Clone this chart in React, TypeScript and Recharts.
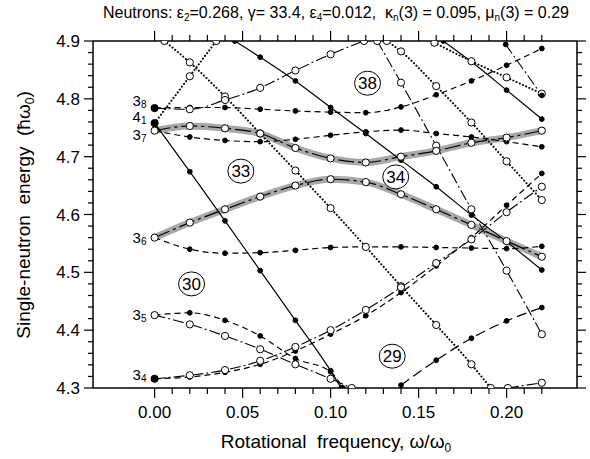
import { LineChart, Line, XAxis, YAxis, ReferenceDot } from 'recharts'

type Pt = [number, number]

// Routhian levels: [omega/omega0, energy]
const lvl38Dashed: Pt[] = [[0, 4.784], [0.02, 4.785], [0.04, 4.785], [0.06, 4.782], [0.08, 4.779], [0.1, 4.777], [0.12, 4.776], [0.14, 4.786], [0.16, 4.807], [0.18, 4.831], [0.2, 4.858], [0.22, 4.887]]
const lvl38DashDot: Pt[] = [[0, 4.784], [0.02, 4.782], [0.04, 4.798], [0.06, 4.819], [0.08, 4.849], [0.1, 4.877], [0.119, 4.9]]
const lvl41Solid: Pt[] = [[0, 4.758], [0.02, 4.674], [0.04, 4.589], [0.06, 4.503], [0.08, 4.417], [0.1, 4.33], [0.106, 4.3]]
const lvl41Dotted: Pt[] = [[0, 4.758], [0.02, 4.839], [0.035, 4.9]]
const lvl37Band: Pt[] = [[0, 4.745], [0.02, 4.753], [0.04, 4.749], [0.06, 4.74], [0.08, 4.715], [0.1, 4.697], [0.12, 4.69], [0.14, 4.7], [0.16, 4.71], [0.18, 4.724], [0.2, 4.733], [0.22, 4.745]]
const lvl37Dashed: Pt[] = [[0, 4.745], [0.02, 4.734], [0.04, 4.728], [0.06, 4.726], [0.08, 4.73], [0.1, 4.737], [0.12, 4.743], [0.14, 4.746], [0.16, 4.74], [0.18, 4.734], [0.2, 4.726], [0.22, 4.717]]
const lvl36Band: Pt[] = [[0, 4.56], [0.02, 4.586], [0.04, 4.609], [0.06, 4.631], [0.08, 4.65], [0.1, 4.661], [0.12, 4.656], [0.14, 4.635], [0.16, 4.609], [0.18, 4.582], [0.2, 4.554], [0.22, 4.527]]
const lvl36Dashed: Pt[] = [[0, 4.56], [0.02, 4.54], [0.04, 4.533], [0.06, 4.534], [0.08, 4.538], [0.1, 4.543], [0.12, 4.544], [0.14, 4.544], [0.16, 4.543], [0.18, 4.542], [0.2, 4.541], [0.22, 4.545]]
const lvl35Dashed: Pt[] = [[0, 4.426], [0.02, 4.43], [0.04, 4.417], [0.06, 4.39], [0.08, 4.351], [0.1, 4.328], [0.107, 4.3]]
const lvl35DashDot: Pt[] = [[0, 4.426], [0.02, 4.41], [0.04, 4.39], [0.06, 4.367], [0.08, 4.341], [0.1, 4.316], [0.112, 4.3]]
const lvl34DashDot: Pt[] = [[0, 4.316], [0.02, 4.322], [0.04, 4.331], [0.06, 4.347], [0.08, 4.371], [0.1, 4.4], [0.12, 4.435], [0.14, 4.474], [0.16, 4.516], [0.18, 4.557], [0.2, 4.604], [0.22, 4.648]]
const lvl34Dashed: Pt[] = [[0, 4.316], [0.02, 4.319], [0.04, 4.327], [0.06, 4.341], [0.08, 4.364], [0.1, 4.393], [0.12, 4.425], [0.14, 4.465], [0.16, 4.511], [0.18, 4.56], [0.2, 4.616], [0.22, 4.671]]

// intruders coming in from outside the window
const downSolidA: Pt[] = [[0.0456, 4.9], [0.06, 4.872], [0.08, 4.831], [0.1, 4.785], [0.12, 4.74], [0.14, 4.694], [0.16, 4.648], [0.18, 4.599], [0.2, 4.553], [0.22, 4.504]]
const downSolidB: Pt[] = [[0.164, 4.9], [0.18, 4.864], [0.2, 4.815], [0.22, 4.765]]
const downDottedA: Pt[] = [[0.0056, 4.9], [0.02, 4.863], [0.04, 4.804], [0.06, 4.74], [0.08, 4.676], [0.1, 4.611], [0.12, 4.544], [0.14, 4.476], [0.16, 4.409], [0.18, 4.341], [0.191, 4.3]]
const downDottedB: Pt[] = [[0.132, 4.9], [0.14, 4.882], [0.16, 4.822], [0.18, 4.759], [0.2, 4.692], [0.22, 4.625]]
const downDottedC: Pt[] = [[0.159, 4.897], [0.18, 4.865], [0.2, 4.837], [0.22, 4.809]]
const downDashDot: Pt[] = [[0.1265, 4.9], [0.14, 4.828], [0.16, 4.719], [0.18, 4.609], [0.2, 4.503], [0.22, 4.393]]
const downDashDotFilled: Pt[] = [[0.1995, 4.894], [0.22, 4.806]]
const upDashed: Pt[] = [[0.14, 4.305], [0.16, 4.348], [0.18, 4.386], [0.2, 4.416], [0.22, 4.439]]
const upDashDot: Pt[] = [[0.2007, 4.3], [0.22, 4.309]]

const xMajor = [0, 0.05, 0.1, 0.15, 0.2]
const yTicks = Array.from({ length: 31 }, (_, i) => +(4.3 + i * 0.02).toFixed(2))
const xTicks = Array.from({ length: 23 }, (_, i) => +(i * 0.01).toFixed(2))

const circledLabels = [
  { text: '38', x: 0.121, y: 4.827 },
  { text: '33', x: 0.049, y: 4.675 },
  { text: '34', x: 0.137, y: 4.665 },
  { text: '30', x: 0.021, y: 4.48 },
  { text: '29', x: 0.135, y: 4.355 },
]

const levelLabels = [
  { n: '3', sub: '8', y: 4.796 },
  { n: '4', sub: '1', y: 4.768 },
  { n: '3', sub: '7', y: 4.737 },
  { n: '3', sub: '6', y: 4.559 },
  { n: '3', sub: '5', y: 4.426 },
  { n: '3', sub: '4', y: 4.322 },
]

const FONT = '"Liberation Sans", Arial, Helvetica, sans-serif'

const STYLES: Record<string, { dash?: string; open: boolean; width: number }> = {
  solid: { open: false, width: 1.2 },
  dashed: { dash: '6 4', open: false, width: 1.2 },
  longDashed: { dash: '10 5', open: false, width: 1.2 },
  dotted: { dash: '0.1 3.4', open: true, width: 2 },
  dashDot: { dash: '11 3 2 3', open: true, width: 1.1 },
  dashDotFilled: { dash: '11 3 2 3', open: false, width: 1.1 },
  band: { dash: '16 4 3 4', open: true, width: 1.2 },
}

const series = [
  { id: 'l38d', pts: lvl38Dashed, kind: 'dashed' },
  { id: 'l37d', pts: lvl37Dashed, kind: 'dashed', hideFirst: true },
  { id: 'l36d', pts: lvl36Dashed, kind: 'dashed', hideFirst: true },
  { id: 'l35d', pts: lvl35Dashed, kind: 'dashed', hideFirst: true },
  { id: 'l34d', pts: lvl34Dashed, kind: 'dashed' },
  { id: 'upd', pts: upDashed, kind: 'longDashed' },
  { id: 'l41s', pts: lvl41Solid, kind: 'solid' },
  { id: 'dsa', pts: downSolidA, kind: 'solid' },
  { id: 'dsb', pts: downSolidB, kind: 'solid' },
  { id: 'l41o', pts: lvl41Dotted, kind: 'dotted', hideFirst: true },
  { id: 'doa', pts: downDottedA, kind: 'dotted' },
  { id: 'dob', pts: downDottedB, kind: 'dotted' },
  { id: 'doc', pts: downDottedC, kind: 'dotted' },
  { id: 'l38dd', pts: lvl38DashDot, kind: 'dashDot', hideFirst: true },
  { id: 'l35dd', pts: lvl35DashDot, kind: 'dashDot' },
  { id: 'l34dd', pts: lvl34DashDot, kind: 'dashDot', hideFirst: true },
  { id: 'ddd', pts: downDashDot, kind: 'dashDot' },
  { id: 'udd', pts: upDashDot, kind: 'dashDot' },
  { id: 'ddf', pts: downDashDotFilled, kind: 'dashDotFilled' },
]

const bands = [
  { id: 'b37', pts: lvl37Band },
  { id: 'b36', pts: lvl36Band },
]

const rows = (pts: Pt[]) => pts.map(([x, y]) => ({ x, y }))

const isMajor = (v: number, step: number) => Math.abs(v / step - Math.round(v / step)) < 1e-6

const makeDot = (id: string, open: boolean, hideFirst?: boolean) => (p: any) => {
  const { cx, cy, index, payload } = p
  if (cx == null || cy == null || (hideFirst && index === 0)) return <g key={`${id}-${index}`} />
  const big = payload && payload.x === 0
  const r = open ? 3.6 : big ? 3.6 : 2.4
  return (
    <circle key={`${id}-${index}`} cx={cx} cy={cy} r={r}
      fill={open ? '#fff' : '#000'} stroke="#000" strokeWidth={1} />
  )
}

const LeftTick = (p: any) => {
  const { x, y, payload } = p
  const major = isMajor(payload.value, 0.1)
  return (
    <g>
      <line x1={x} x2={x - (major ? 9 : 5)} y1={y} y2={y} stroke="#000" strokeWidth={1.2} />
      {major && (
        <text x={x - 13} y={y + 6} textAnchor="end" fontSize={17} fontFamily={FONT} fill="#000">
          {payload.value.toFixed(1)}
        </text>
      )}
    </g>
  )
}

const RightTick = (p: any) => {
  const { x, y, payload } = p
  const major = isMajor(payload.value, 0.1)
  return <line x1={x} x2={x + (major ? 9 : 5)} y1={y} y2={y} stroke="#000" strokeWidth={1.2} />
}

const BottomTick = (p: any) => {
  const { x, y, payload } = p
  const major = xMajor.some((m) => Math.abs(m - payload.value) < 1e-6)
  return (
    <g>
      <line x1={x} x2={x} y1={y} y2={y + (major ? 10 : 6)} stroke="#000" strokeWidth={1.2} />
      {major && (
        <text x={x} y={y + 30} textAnchor="middle" fontSize={17} fontFamily={FONT} fill="#000">
          {payload.value.toFixed(2)}
        </text>
      )}
    </g>
  )
}

const TopTick = (p: any) => {
  const { x, y, payload } = p
  const major = xMajor.some((m) => Math.abs(m - payload.value) < 1e-6)
  return <line x1={x} x2={x} y1={y} y2={y - (major ? 10 : 6)} stroke="#000" strokeWidth={1.2} />
}

export default function App() {
  return (
    <div style={{ position: 'absolute', left: 0, top: 0, width: 590, height: 459, background: '#fff' }}>
      <LineChart width={590} height={459} margin={{ top: 21, right: 0, bottom: 31, left: 0 }}>
        <XAxis dataKey="x" type="number" domain={[-0.035, 0.24]} allowDataOverflow
          ticks={xTicks} interval={0} tick={BottomTick} tickLine={false} tickSize={0} tickMargin={0}
          height={40} axisLine={{ stroke: '#000', strokeWidth: 1.5 }} />
        <XAxis xAxisId="top" orientation="top" dataKey="x" type="number" domain={[-0.035, 0.24]} allowDataOverflow
          ticks={xTicks} interval={0} tick={TopTick} tickLine={false} tickSize={0} tickMargin={0}
          height={20} axisLine={{ stroke: '#000', strokeWidth: 1.5 }} />
        <YAxis type="number" domain={[4.3, 4.9]} allowDataOverflow ticks={yTicks} interval={0}
          tick={LeftTick} tickLine={false} tickSize={0} tickMargin={0} width={93}
          axisLine={{ stroke: '#000', strokeWidth: 1.5 }} />
        <YAxis yAxisId="right" orientation="right" type="number" domain={[4.3, 4.9]} allowDataOverflow
          ticks={yTicks} interval={0} tick={RightTick} tickLine={false} tickSize={0} tickMargin={0} width={13}
          axisLine={{ stroke: '#000', strokeWidth: 1.5 }} />

        {bands.map((b) => (
          <Line key={b.id + 'g'} data={rows(b.pts)} dataKey="y" type="monotone" stroke="#a8a8a8"
            strokeWidth={7} strokeLinecap="round" dot={false} activeDot={false} isAnimationActive={false} />
        ))}

        {series.map((s) => {
          const st = STYLES[s.kind]
          return (
            <Line key={s.id} data={rows(s.pts)} dataKey="y" type="monotone" stroke="#000"
              strokeWidth={st.width} strokeDasharray={st.dash}
              strokeLinecap={s.kind === 'dotted' ? 'round' : 'butt'}
              dot={makeDot(s.id, st.open, s.hideFirst)} activeDot={false} isAnimationActive={false} />
          )
        })}

        {bands.map((b) => (
          <Line key={b.id} data={rows(b.pts)} dataKey="y" type="monotone" stroke="#000"
            strokeWidth={STYLES.band.width} strokeDasharray={STYLES.band.dash}
            dot={makeDot(b.id, true)} activeDot={false} isAnimationActive={false} />
        ))}

        {circledLabels.map((c) => (
          <ReferenceDot key={c.text} x={c.x} y={c.y} r={12}
            shape={(p: any) => (
              <g>
                <ellipse cx={p.cx} cy={p.cy} rx={13} ry={12} fill="#fff" stroke="#000" strokeWidth={1} />
                <text x={p.cx} y={p.cy + 6} textAnchor="middle" fontSize={17} fontFamily={FONT} fill="#000">{c.text}</text>
              </g>
            )} />
        ))}

        {levelLabels.map((l) => (
          <ReferenceDot key={l.n + l.sub} x={0} y={l.y} r={1}
            shape={(p: any) => (
              <text x={p.cx - 22} y={p.cy + 5} fontSize={15} fontFamily={FONT} fill="#000">
                {l.n}
                <tspan fontSize={10} dy={2}>{l.sub}</tspan>
              </text>
            )} />
        ))}
      </LineChart>

      <svg width={590} height={459} style={{ position: 'absolute', left: 0, top: 0, pointerEvents: 'none' }}>
        <text x={336} y={18} textAnchor="middle" fontSize={16} fontFamily={FONT} style={{ whiteSpace: 'pre' }}>
          Neutrons: ε<tspan fontSize={10} dy={3}>2</tspan>
          <tspan dy={-3}>=0.268, γ= 33.4, ε</tspan><tspan fontSize={10} dy={3}>4</tspan>
          <tspan dy={-3}>=0.012,  κ</tspan><tspan fontSize={10} dy={3}>n</tspan>
          <tspan dy={-3}>(3) = 0.095, μ</tspan><tspan fontSize={10} dy={3}>n</tspan>
          <tspan dy={-3}>(3) = 0.29</tspan>
        </text>
        <text x={336} y={448} textAnchor="middle" fontSize={19} fontFamily={FONT} style={{ whiteSpace: 'pre' }}>
          Rotational  frequency, ω/ω<tspan fontSize={12} dy={4}>0</tspan>
        </text>
        <text transform="translate(30,215) rotate(-90)" textAnchor="middle" fontSize={19} fontFamily={FONT}
          style={{ whiteSpace: 'pre' }}>
          Single-neutron  energy  (ħω<tspan fontSize={12} dy={4}>0</tspan><tspan dy={-4}>)</tspan>
        </text>
      </svg>
    </div>
  )
}
